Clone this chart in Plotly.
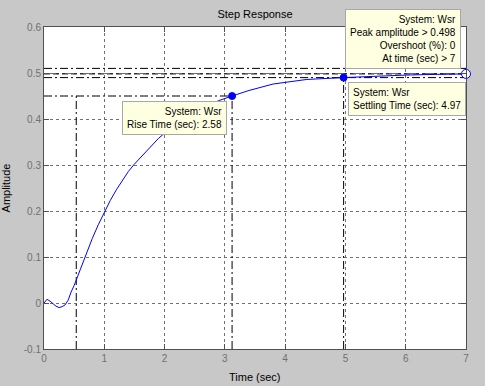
import plotly.graph_objects as go

# Step response samples
time_s = [0, 0.05, 0.1, 0.15, 0.2, 0.25, 0.3, 0.35, 0.4, 0.45, 0.5, 0.6, 0.7, 0.8, 0.9, 1.0,
          1.1, 1.2, 1.3, 1.4, 1.5, 1.7, 1.9, 2.1, 2.3, 2.5, 2.7, 2.9, 3.12, 3.4, 3.8, 4.36,
          4.97, 5.5, 6.0, 6.5, 7.0]
amplitude = [0, 0.008, 0.004, -0.002, -0.007, -0.010, -0.008, -0.004, 0.006, 0.024, 0.038,
             0.072, 0.107, 0.140, 0.170, 0.198, 0.223, 0.246, 0.267, 0.286, 0.302, 0.331,
             0.358, 0.380, 0.399, 0.415, 0.428, 0.440, 0.450, 0.462, 0.476, 0.486, 0.490,
             0.4935, 0.4955, 0.497, 0.498]

# Characteristics
rise_t10 = 0.535
rise_t90 = 3.12
rise_y90 = 0.45
rise_time_text = "2.58"
settle_time = 4.97
settle_lo = 0.49
settle_hi = 0.51
peak_time = 7.0
peak_amp = 0.498

x_ticks = [0, 1, 2, 3, 4, 5, 6, 7]
x_tick_labels = ["0", "1", "2", "3", "4", "5", "6", "7"]
y_ticks = [-0.1, 0, 0.1, 0.2, 0.3, 0.4, 0.5, 0.6]
y_tick_labels = ["-0.1", "0", "0.1", "0.2", "0.3", "0.4", "0.5", "0.6"]

x_range = [0, 7]
y_range = [-0.1, 0.6]

BLUE = "#0000ff"
DASHDOT = "8px,3px,2px,3px"

fig = go.Figure()

def guide(xs, ys, dash=DASHDOT):
    fig.add_trace(go.Scatter(x=xs, y=ys, mode="lines",
                             line=dict(color="black", width=1, dash=dash),
                             hoverinfo="skip", showlegend=False))

# settling band and peak lines
guide([x_range[0], x_range[1]], [settle_hi, settle_hi])
guide([x_range[0], x_range[1]], [settle_lo, settle_lo])
guide([x_range[0], peak_time], [peak_amp, peak_amp], dash="6px,3px")
# rise time lines
guide([x_range[0], rise_t90], [rise_y90, rise_y90])
guide([rise_t10, rise_t10], [y_range[0], rise_y90])
guide([rise_t90, rise_t90], [y_range[0], rise_y90])
# settling vertical
guide([settle_time, settle_time], [y_range[0], settle_lo])

# response curve
fig.add_trace(go.Scatter(x=time_s, y=amplitude, mode="lines",
                         line=dict(color=BLUE, width=1), showlegend=False,
                         hoverinfo="skip"))

# markers
fig.add_trace(go.Scatter(x=[rise_t90, settle_time], y=[rise_y90, settle_lo], mode="markers",
                         marker=dict(color=BLUE, size=7, line=dict(color=BLUE, width=1)),
                         showlegend=False, hoverinfo="skip"))
fig.add_trace(go.Scatter(x=[peak_time], y=[peak_amp], mode="markers",
                         marker=dict(color="white", size=9, line=dict(color=BLUE, width=1)),
                         showlegend=False, hoverinfo="skip", cliponaxis=False))

tip_font = dict(family="Liberation Sans, Arial, sans-serif", size=10, color="black")
tip_common = dict(showarrow=False, bgcolor="#ffffe1", bordercolor="#a8a8a8",
                  borderwidth=1, borderpad=4, font=tip_font, xref="x", yref="y")

fig.add_annotation(x=rise_t90, y=rise_y90, xanchor="right", yanchor="top",
                   xshift=-5, yshift=-5, align="right",
                   text="System: Wsr<br>Rise Time (sec): " + rise_time_text, **tip_common)
fig.add_annotation(x=peak_time, y=peak_amp, xanchor="right", yanchor="bottom",
                   xshift=-5, yshift=5, align="right",
                   text="System: Wsr<br>Peak amplitude > %.3f<br>Overshoot (%%): 0<br>At time (sec) > %g"
                        % (peak_amp, peak_time), **tip_common)
fig.add_annotation(x=settle_time, y=settle_lo, xanchor="left", yanchor="top",
                   xshift=4, yshift=-4, align="left",
                   text="System: Wsr<br>Settling Time (sec): %.2f" % settle_time, **tip_common)

# axis titles
lab_font = dict(family="Liberation Sans, Arial, sans-serif", size=11, color="black")
fig.add_annotation(x=0.5, y=-0.087, xref="paper", yref="paper", showarrow=False,
                   text="Time (sec)", font=lab_font, xanchor="center", yanchor="middle")
fig.add_annotation(x=-0.089, y=0.5, xref="paper", yref="paper", showarrow=False,
                   text="Amplitude", font=lab_font, textangle=-90,
                   xanchor="center", yanchor="middle")

axis_common = dict(showline=True, linecolor="#505050", linewidth=1, mirror="ticks",
                   ticks="inside", ticklen=5, tickcolor="#505050",
                   showgrid=True, gridcolor="#707070", gridwidth=1, griddash="3px,3px",
                   zeroline=False,
                   tickfont=dict(family="Liberation Sans, Arial, sans-serif", size=10,
                                 color="#707070"))

fig.update_xaxes(range=x_range, tickvals=x_ticks, ticktext=x_tick_labels, **axis_common)
fig.update_yaxes(range=y_range, tickvals=y_ticks, ticktext=y_tick_labels, **axis_common)

fig.update_layout(
    width=485, height=386,
    margin=dict(l=44, r=19, t=27, b=37),
    paper_bgcolor="#c8c8c8", plot_bgcolor="white",
    title=dict(text="Step Response", x=0.5, xanchor="center", xref="paper",
               y=1 - 14.5 / 386, yanchor="middle", yref="container",
               font=dict(family="Liberation Sans, Arial, sans-serif", size=11, color="black")),
    hovermode=False,
)

fig.write_html("out.html", config={"displayModeBar": False},
               post_script="document.body.style.margin='0';document.body.style.padding='0';"
                           "document.body.style.background='#c8c8c8';")
